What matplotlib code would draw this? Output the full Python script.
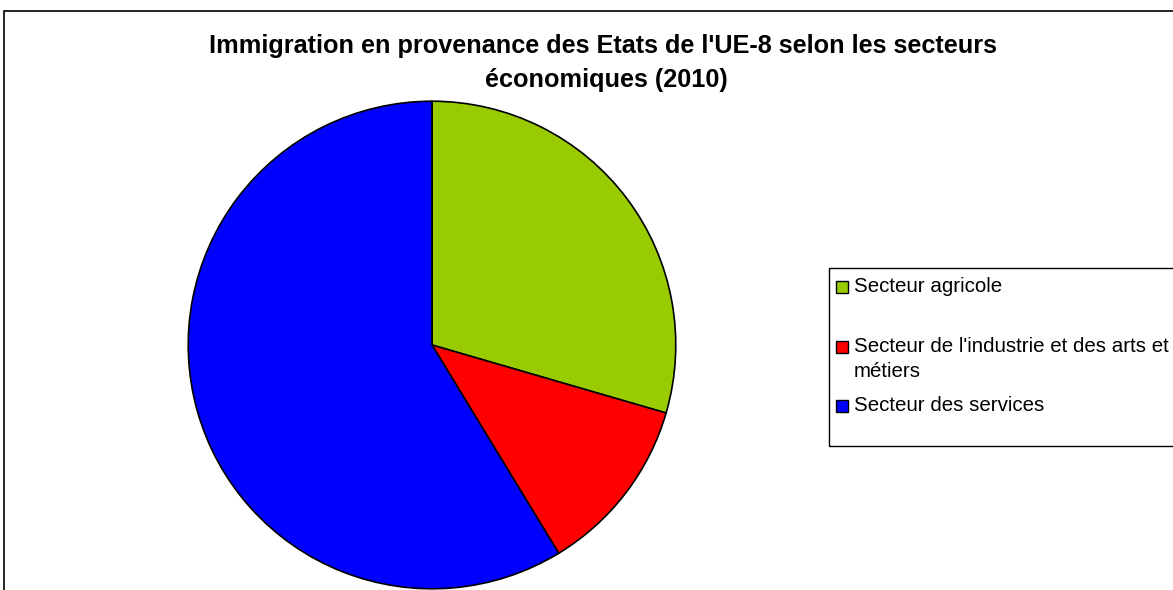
import matplotlib
matplotlib.use('Agg')
import matplotlib.pyplot as plt
from matplotlib.patches import Rectangle

categories = ["Secteur agricole",
              "Secteur de l'industrie et des arts et\nmétiers",
              "Secteur des services"]
values = [29.5, 11.8, 58.7]
colors = ['#99CC00', '#FF0000', '#0000FF']
title = "Immigration en provenance des Etats de l'UE-8 selon les secteurs\néconomiques (2010)"

plt.rcParams['font.family'] = ['Liberation Sans', 'DejaVu Sans']

W, H = 1173, 590
fig = plt.figure(figsize=(W / 100, H / 100), dpi=100)
fig.patch.set_facecolor('white')


def fx(x):
    return x / W


def fy(y):
    return 1 - y / H


# outer chart border (cut at right and bottom)
fig.patches.append(Rectangle((fx(3.5), -0.2), 1.5, fy(10.5) + 0.2,
                             transform=fig.transFigure, fill=False,
                             ec='black', lw=1.2))

# pie
cx, cy, r = 432, 345, 245
ax = fig.add_axes([fx(cx - r), fy(cy + r), 2 * r / W, 2 * r / H])
ax.pie(values, colors=colors, startangle=90, counterclock=False,
       radius=1, wedgeprops=dict(edgecolor='black', linewidth=1.2))
ax.set_xlim(-1.005, 1.005)
ax.set_ylim(-1.005, 1.005)
ax.axis('off')

# title (two centred lines)
for i, line in enumerate(title.split('\n')):
    fig.text(fx(603 + 3 * i), fy(53 + 34 * i), line, ha='center', va='baseline',
             fontsize=18.2, fontweight='bold', color='black')

# legend
fig.patches.append(Rectangle((fx(828.5), fy(446)), 1.0, (446 - 268) / H,
                             transform=fig.transFigure, fill=False,
                             ec='black', lw=1.0))
baselines = [292, 352, 411]
for lab, col, yb in zip(categories, colors, baselines):
    fig.patches.append(Rectangle((fx(836), fy(yb + 1)), 12 / W, 12 / H,
                                 transform=fig.transFigure, fc=col,
                                 ec='black', lw=1.0))
    for j, line in enumerate(lab.split('\n')):
        fig.text(fx(854), fy(yb + 25 * j), line, ha='left', va='baseline',
                 fontsize=14.8, color='black')

fig.savefig('out.png', dpi=100, facecolor='white')
